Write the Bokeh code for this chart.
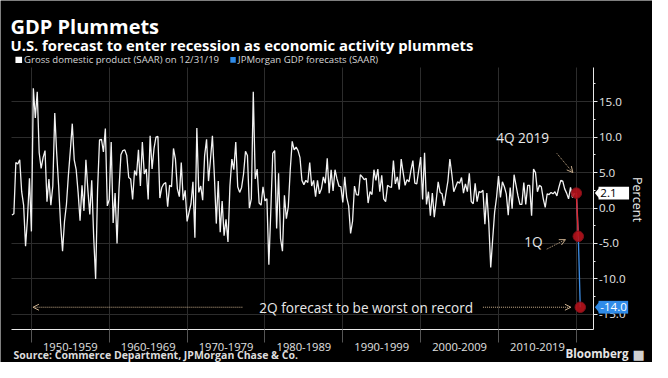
from math import pi
from bokeh.plotting import figure
from bokeh.models import (ColumnDataSource, FixedTicker, SingleIntervalTicker, Label,
                          Arrow, OpenHead, Legend, LegendItem, PrintfTickFormatter, Range1d,
                          BoxAnnotation, PolyAnnotation)
from bokeh.embed import file_html
from bokeh.resources import INLINE

# ---------------- data: real GDP growth, % SAAR (quarterly) ----------------
gdp_start_year = 1947
gdp_start_quarter = 2
gdp_1940s = [-1.0, -0.8, 6.4, 6.2, 6.8, 2.3, 0.4, -5.4, -1.4, 4.2, -3.3]
gdp_1950s = [16.9, 12.7, 16.4, 7.8, 5.6, 7.1, 8.1, 0.9, 4.1, 0.4, 3.1, 13.4,
             7.7, 3.1, -2.3, -6.1, -1.9, 0.5, 4.6, 8.1, 11.9, 6.8, 5.4, 2.2,
             -1.8, 3.2, -0.4, 6.8, 2.6, -0.9, 3.9, -4.1, -10.0, 2.6, 9.6, 9.7,
             7.9, 11.2, 0.3, 1.2]
gdp_1960s = [9.3, -2.1, 2.1, -5.0, 2.7, 7.5, 8.1, 8.2, 7.4, 4.3, 4.1, 1.2,
             5.3, 4.6, 8.2, 3.1, 9.3, 4.8, 5.5, 1.2, 10.2, 5.5, 8.4, 10.0,
             10.1, 1.4, 2.9, 3.4, 3.6, 0.2, 3.2, 3.0, 8.4, 6.9, 2.7, 1.6,
             6.4, 1.1, 2.5, -1.9]
gdp_1970s = [-0.6, 0.6, 3.7, -4.2, 11.3, 2.2, 3.1, 1.1, 7.4, 9.7, 3.8, 6.8,
             10.2, 4.6, -2.2, 3.8, -3.4, 1.0, -3.9, -1.6, -4.8, 3.1, 6.9, 5.4,
             9.3, 3.0, 2.2, 2.9, 4.8, 8.0, 7.4, 0.0, 1.3, 16.4, 4.1, 5.5,
             0.7, 0.4, 3.0, 1.0]
gdp_1980s = [1.3, -8.0, -0.5, 7.7, 8.1, -2.9, 4.9, -4.3, -6.1, 1.8, -1.5, 0.2,
             5.4, 9.4, 8.2, 8.6, 8.1, 7.1, 3.9, 3.3, 3.9, 3.6, 6.4, 3.1,
             3.9, 1.6, 3.9, 2.0, 2.7, 4.4, 3.5, 7.0, 2.1, 5.4, 2.4, 5.4,
             4.1, 3.1, 3.0, 0.8]
gdp_1990s = [4.4, 1.5, 0.3, -3.6, -1.9, 3.1, 1.9, 1.8, 4.7, 4.4, 4.0, 4.2,
             0.7, 2.3, 1.9, 5.4, 3.9, 5.5, 2.3, 4.6, 1.3, 0.9, 3.2, 3.0,
             2.9, 6.7, 3.4, 4.4, 2.6, 6.9, 5.0, 3.2, 4.0, 3.7, 5.3, 6.7,
             3.5, 3.4, 5.3, 7.2]
gdp_2000s = [1.2, 7.8, 0.5, 2.3, -1.1, 2.1, -1.3, 1.1, 3.7, 2.2, 2.0, 0.3,
             2.1, 3.8, 6.9, 4.8, 2.3, 3.0, 3.7, 3.5, 4.3, 2.1, 3.4, 2.3,
             4.9, 0.9, 0.6, 3.5, 0.9, 2.3, 2.2, 2.5, -2.3, 2.1, -2.1, -8.4,
             -4.4, -0.6, 1.5, 4.5]
gdp_2010s = [1.5, 3.7, 3.0, 2.0, -1.0, 2.9, -0.1, 4.7, 3.2, 1.7, 0.5, 0.5,
             3.6, 0.5, 3.2, 3.2, -1.1, 5.5, 5.0, 2.3, 3.2, 3.0, 1.3, 0.1,
             2.0, 1.9, 2.2, 2.0, 2.3, 1.7, 2.9, 3.9, 3.8, 2.7, 2.1, 1.3,
             2.9, 1.5, 2.1]

# JPMorgan forecasts: 4Q 2019, 1Q 2020, 2Q 2020
fc_years = [2019, 2020, 2020]
fc_quarters = [4, 1, 2]
fc_values = [2.1, -4.0, -14.0]

decade_starts = [1950, 1960, 1970, 1980, 1990, 2000, 2010, 2020]
decade_labels = ["1950-1959", "1960-1969", "1970-1979", "1980-1989",
                 "1990-1999", "2000-2009", "2010-2019"]
y_grid_values = [-15, -10, -5, 0, 5, 10, 15]

# ---------------- build sources ----------------
gdp_values = (gdp_1940s + gdp_1950s + gdp_1960s + gdp_1970s + gdp_1980s
              + gdp_1990s + gdp_2000s + gdp_2010s)
gdp_x = []
yr, q = gdp_start_year, gdp_start_quarter
for _ in gdp_values:
    gdp_x.append(yr + q / 4.0)          # plotted at quarter end
    q += 1
    if q > 4:
        q = 1
        yr += 1
fc_x = [y + qq / 4.0 for y, qq in zip(fc_years, fc_quarters)]

src = ColumnDataSource(dict(x=gdp_x, y=gdp_values))
fsrc = ColumnDataSource(dict(x=fc_x, y=fc_values))
fsrc_red = ColumnDataSource(dict(x=fc_x[:2], y=fc_values[:2]))

FONT = "Open Sans"
TAN = "#c8ad8c"
WHITE_LINE = "#f2f2f2"
BLUE = "#2f8be8"

# plot-area extent (data units) and where the axes sit
X0, X1 = 1947.40, 2022.25
Y0, Y1 = -17.11, 19.82

p = figure(width=652, height=362, output_backend="svg", toolbar_location=None,
           title=None,
           x_range=Range1d(1946.03, 2029.78), y_range=Range1d(-21.80, 29.28),
           background_fill_color="black", border_fill_color="black",
           outline_line_color=None, y_axis_location="right",
           min_border_left=0, min_border_right=0, min_border_top=0,
           min_border_bottom=0)

# x axis (decades)
xa = p.xaxis[0]
xa.fixed_location = Y0
xa.bounds = (X0, X1)
mids = [d + 5 for d in decade_starts[:-1]]
xa.ticker = FixedTicker(ticks=mids, minor_ticks=decade_starts)
xa.major_label_overrides = {m: lab for m, lab in zip(mids, decade_labels)}
xa.major_tick_out = 0
xa.major_tick_in = 0
xa.minor_tick_out = 13
xa.minor_tick_in = 0
xa.minor_tick_line_color = "#555555"
xa.axis_line_color = "#e8e8e8"
xa.major_label_text_color = "#e0e0e0"
xa.major_label_text_font = FONT
xa.major_label_text_font_size = "11.2px"
xa.major_label_standoff = 1

# y axis (right)
ya = p.yaxis[0]
ya.fixed_location = X1
ya.bounds = (Y0, Y1)
ya.ticker = SingleIntervalTicker(interval=5, num_minor_ticks=2)
ya.formatter = PrintfTickFormatter(format="%.1f")
ya.axis_line_color = "#e8e8e8"
ya.major_tick_line_color = "#e8e8e8"
ya.minor_tick_line_color = "#e8e8e8"
ya.major_tick_out = 4
ya.major_tick_in = 0
ya.minor_tick_out = 2
ya.minor_tick_in = 0
ya.major_label_standoff = 1
ya.major_label_text_color = "#e6e6e6"
ya.major_label_text_font = FONT
ya.major_label_text_font_size = "11.6px"

p.xgrid.ticker = FixedTicker(ticks=decade_starts)
p.xgrid.cross_bounds = (Y0, Y1)
p.xgrid.grid_line_color = "#2c2c2c"
p.ygrid.ticker = FixedTicker(ticks=y_grid_values)
p.ygrid.cross_bounds = (X0, X1)
p.ygrid.grid_line_color = "#2c2c2c"

# lines
p.line("x", "y", source=src, line_color=WHITE_LINE, line_width=1.3)
p.line("x", "y", source=fsrc, line_color="#3d8ee6", line_width=1.3)
p.line("x", "y", source=fsrc_red, line_color="#e0282e", line_width=1.5)
p.scatter("x", "y", source=fsrc, size=10.5, fill_color="#b5121b",
          line_color="#80101a", fill_alpha=0.9)

# legend (text from a Legend, swatches as small boxes)
r1 = p.quad(left=[], right=[], top=[], bottom=[], fill_color="white", line_color=None)
r2 = p.quad(left=[], right=[], top=[], bottom=[], fill_color=BLUE, line_color=None)
legend = Legend(items=[LegendItem(label="Gross domestic product (SAAR) on 12/31/19", renderers=[r1]),
                       LegendItem(label="JPMorgan GDP forecasts (SAAR)", renderers=[r2])],
                orientation="horizontal", location=(15, 296), padding=0, margin=0,
                spacing=10, label_standoff=2, glyph_width=7, glyph_height=7,
                label_text_font=FONT, label_text_font_size="9.6px",
                label_text_color="#d6d6d6", background_fill_alpha=0,
                border_line_alpha=0, label_height=12)
p.add_layout(legend)
p.add_layout(BoxAnnotation(left=1947.95, right=1948.8, bottom=20.45, top=21.35,
                           fill_color="white", fill_alpha=1, line_color=None))
p.add_layout(BoxAnnotation(left=1975.55, right=1976.25, bottom=20.5, top=21.3,
                           fill_color=BLUE, fill_alpha=1, line_color=None))

# titles and footer (screen units, origin bottom-left)
p.add_layout(Label(x=10, y=336, x_units="screen", y_units="screen", text="GDP Plummets",
                   text_font=FONT, text_font_style="bold", text_font_size="20px",
                   text_color="white", text_baseline="alphabetic"))
p.add_layout(Label(x=10, y=318, x_units="screen", y_units="screen",
                   text="U.S. forecast to enter recession as economic activity plummets",
                   text_font=FONT, text_font_style="bold", text_font_size="14.8px",
                   text_color="white", text_baseline="alphabetic"))
p.add_layout(Label(x=13, y=8, x_units="screen", y_units="screen",
                   text="Source: Commerce Department, JPMorgan Chase & Co.",
                   text_font=FONT, text_font_style="bold", text_font_size="10.5px",
                   text_color="#dcdcdc", text_baseline="alphabetic"))
p.add_layout(Label(x=565, y=9, x_units="screen", y_units="screen", text="Bloomberg",
                   text_font=FONT, text_font_style="bold", text_font_size="11.6px",
                   text_color="#e6e6e6", text_baseline="alphabetic"))
p.add_layout(Label(x=632, y=8, x_units="screen", y_units="screen", text="\u25a0",
                   text_font="DejaVu Sans", text_font_size="13px",
                   text_color="#d0d0d0", text_baseline="alphabetic"))

# axis title
p.add_layout(Label(x=2027.9, y=1.2, text="Percent", angle=-pi / 2,
                   text_font=FONT, text_font_size="12.6px", text_color="#ececec",
                   text_align="center", text_baseline="middle"))

# annotations
p.add_layout(Label(x=2009.7, y=10.0, text="4Q 2019", text_font=FONT, text_font_size="13.6px",
                   text_color="#e8e8e8", text_baseline="middle"))
p.add_layout(Label(x=2013.3, y=-4.7, text="1Q", text_font=FONT, text_font_size="13.6px",
                   text_color="#e8e8e8", text_baseline="middle"))
p.add_layout(Label(x=1993.0, y=fc_values[2], text="2Q forecast to be worst on record",
                   text_font=FONT, text_font_size="13.6px", text_color="#e8e8e8",
                   text_baseline="middle", text_align="center"))

def arrow(x0, y0, x1, y1):
    p.add_layout(Arrow(x_start=x0, y_start=y0, x_end=x1, y_end=y1,
                       line_color=TAN, line_width=1, line_dash="1 1",
                       end=OpenHead(size=6, line_color=TAN, line_width=1)))

arrow(2017.5, 7.7, 2019.55, 5.0)
arrow(2016.2, -5.8, 2018.6, -4.46)
arrow(1977.1, fc_values[2], 1950.2, fc_values[2])
arrow(2008.0, fc_values[2], 2019.3, fc_values[2])

# last-value badges on the axis
def badge(val, fill, text_color, right):
    p.add_layout(PolyAnnotation(xs=[2022.38, 2022.9, 2022.9], ys=[val, val + 0.7, val - 0.7],
                                fill_color=fill, fill_alpha=1, line_color=None))
    p.add_layout(BoxAnnotation(left=2022.85, right=right, bottom=val - 0.9, top=val + 0.9,
                               fill_color=fill, fill_alpha=1, line_color=None))
    p.add_layout(Label(x=2023.07, y=val, text="%.1f" % val, text_font=FONT,
                       text_font_size="11.6px", text_color=text_color,
                       text_baseline="middle"))

badge(fc_values[0], "white", "black", 2026.77)
badge(fc_values[2], BLUE, "white", 2026.65)

open("out.html", "w").write(file_html(p, INLINE))
